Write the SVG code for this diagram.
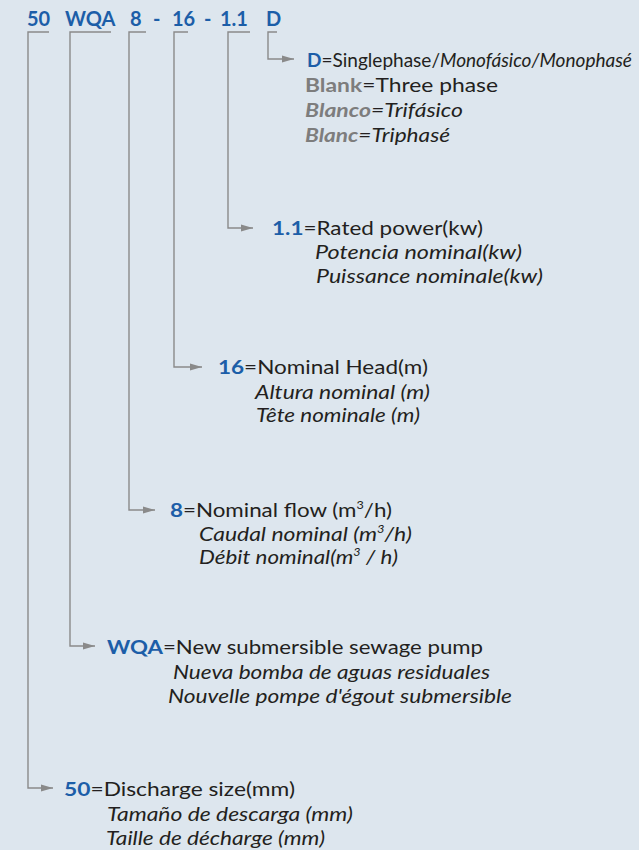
<svg xmlns="http://www.w3.org/2000/svg" width="639" height="850" viewBox="0 0 639 850">
<defs>
<marker id="ah" markerUnits="userSpaceOnUse" markerWidth="12" markerHeight="8" viewBox="0 0 12 8" refX="12" refY="4" orient="auto">
<path d="M0,0.5 L12,4 L0,7.5 Z" fill="#8a8a8a"/>
</marker>
<style>
text{font-family:Lato,"Open Sans","Liberation Sans",sans-serif;font-size:19.5px;fill:#231f20}
.code{font-weight:bold;fill:#1c5ea8;font-size:20px}
.b{font-weight:bold;fill:#1c5ea8}
.g{font-weight:bold;fill:#7d7d7d}
.i{font-style:italic}
.sup{font-size:11px}
.con path{fill:none;stroke:#8a8a8a;stroke-width:1.4}
</style>
</defs>
<rect width="639" height="850" fill="#dde6ee"/>
<g id="code">
<text class="code" x="27" y="26">50</text>
<text class="code" x="65" y="26">WQA</text>
<text class="code" x="130" y="26">8</text>
<text class="code" x="153" y="26">-</text>
<text class="code" x="172" y="26">16</text>
<text class="code" x="204" y="26">-</text>
<text class="code" x="220" y="26">1.1</text>
<text class="code" x="266" y="26">D</text>
</g>
<g class="con" id="connectors">
<path d="M49,32 H28 V788 H53" marker-end="url(#ah)"/>
<path d="M111,32 H70 V646 H95" marker-end="url(#ah)"/>
<path d="M146,32 H129 V510 H155" marker-end="url(#ah)"/>
<path d="M188,32 H174 V367 H202" marker-end="url(#ah)"/>
<path d="M250,32 H228 V228 H253" marker-end="url(#ah)"/>
<path d="M277,32 H268 V59 H294" marker-end="url(#ah)"/>
</g>
<g id="desc-D">
<text x="307" y="67" textLength="325" lengthAdjust="spacingAndGlyphs"><tspan class="b">D</tspan>=Singlephase/<tspan class="i">Monofásico/Monophasé</tspan></text>
<text x="305" y="92" textLength="193" lengthAdjust="spacingAndGlyphs"><tspan class="g">Blank</tspan>=Three phase</text>
<text class="i" x="305" y="117" textLength="158" lengthAdjust="spacingAndGlyphs"><tspan class="g">Blanco</tspan>=Trifásico</text>
<text class="i" x="305" y="142" textLength="145" lengthAdjust="spacingAndGlyphs"><tspan class="g">Blanc</tspan>=Triphasé</text>
</g>
<g id="desc-power">
<text x="272" y="235" textLength="211" lengthAdjust="spacingAndGlyphs"><tspan class="b">1.1</tspan>=Rated power(kw)</text>
<text class="i" x="315" y="259" textLength="207" lengthAdjust="spacingAndGlyphs">Potencia nominal(kw)</text>
<text class="i" x="316" y="283" textLength="227" lengthAdjust="spacingAndGlyphs">Puissance nominale(kw)</text>
</g>
<g id="desc-head">
<text x="218" y="374" textLength="210" lengthAdjust="spacingAndGlyphs"><tspan class="b">16</tspan>=Nominal Head(m)</text>
<text class="i" x="255" y="399" textLength="175" lengthAdjust="spacingAndGlyphs">Altura nominal (m)</text>
<text class="i" x="256" y="422" textLength="164" lengthAdjust="spacingAndGlyphs">Tête nominale (m)</text>
</g>
<g id="desc-flow">
<text x="170" y="517" textLength="222" lengthAdjust="spacingAndGlyphs"><tspan class="b">8</tspan>=Nominal flow (m<tspan class="sup" dy="-8">3</tspan><tspan dy="8">/h)</tspan></text>
<text class="i" x="199" y="541" textLength="213" lengthAdjust="spacingAndGlyphs">Caudal nominal (m<tspan class="sup" dy="-8">3</tspan><tspan dy="8">/h)</tspan></text>
<text class="i" x="199" y="564" textLength="199" lengthAdjust="spacingAndGlyphs">Débit nominal(m<tspan class="sup" dy="-8">3</tspan><tspan dy="8"> / h)</tspan></text>
</g>
<g id="desc-type">
<text x="107" y="654" textLength="376" lengthAdjust="spacingAndGlyphs"><tspan class="b">WQA</tspan>=New submersible sewage pump</text>
<text class="i" x="173" y="679" textLength="317" lengthAdjust="spacingAndGlyphs">Nueva bomba de aguas residuales</text>
<text class="i" x="168" y="703" textLength="344" lengthAdjust="spacingAndGlyphs">Nouvelle pompe d'égout submersible</text>
</g>
<g id="desc-size">
<text x="64" y="796" textLength="231" lengthAdjust="spacingAndGlyphs"><tspan class="b">50</tspan>=Discharge size(mm)</text>
<text class="i" x="107" y="821" textLength="246" lengthAdjust="spacingAndGlyphs">Tamaño de descarga (mm)</text>
<text class="i" x="106" y="845" textLength="219" lengthAdjust="spacingAndGlyphs">Taille de décharge (mm)</text>
</g>
</svg>
